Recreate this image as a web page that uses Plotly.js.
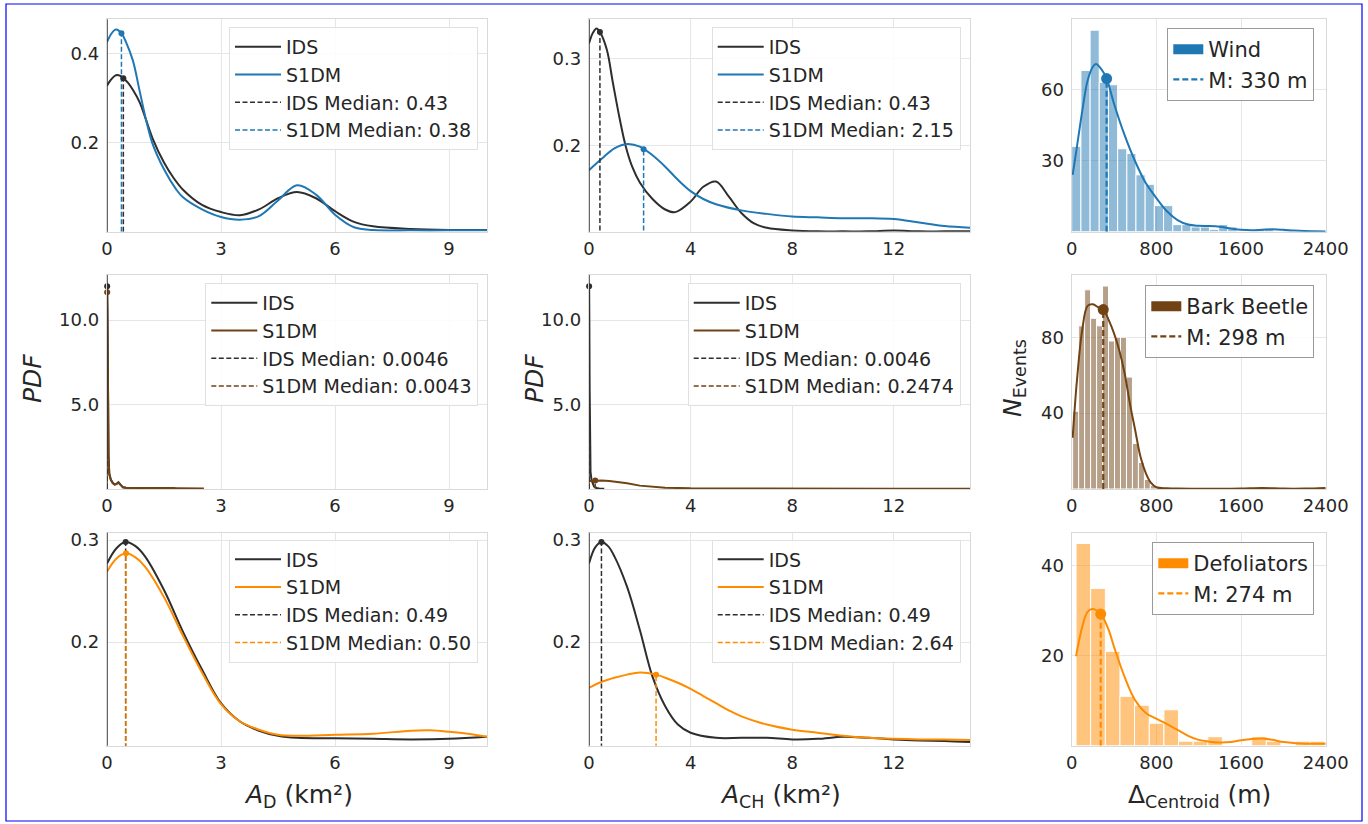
<!DOCTYPE html>
<html>
<head>
<meta charset="utf-8">
<script src="https://cdn.plot.ly/plotly-3.0.1.min.js"></script>
<style>html,body{margin:0;padding:0;background:#fff;}#chart{width:1368px;height:824px;}</style>
</head>
<body>
<div id="chart"></div>
<script>
// ---------------- DATA ----------------
const classNames = ['Wind', 'Bark Beetle', 'Defoliators'];

// Column 1: A_D KDE curves
const adIdsX = [
  [0,0.1,0.2,0.27,0.35,0.43,0.55,0.68,0.86,1.03,1.21,1.5,1.74,2,2.5,3,3.5,4,4.5,5,5.5,6,6.5,7,8,9,10],
  [0,0.0046,0.012,0.025,0.04,0.06,0.1,0.15,0.2,0.25,0.3,0.35,0.42,0.5,0.8,1.2,1.8],
  [0,0.25,0.49,0.75,1,1.5,2,2.5,3,3.5,4,4.5,5,6,7,8,9,10]
];
const adIdsY = [
  [0.327,0.340,0.349,0.351,0.349,0.344,0.334,0.318,0.290,0.250,0.207,0.155,0.122,0.094,0.060,0.044,0.037,0.050,0.075,0.089,0.075,0.046,0.022,0.012,0.006,0.004,0.004],
  [11.6,12.0,10.5,6.0,2.0,0.9,0.55,0.35,0.25,0.28,0.38,0.25,0.08,0.05,0.04,0.03,0.02],
  [0.277,0.292,0.298,0.294,0.284,0.251,0.210,0.173,0.140,0.122,0.113,0.108,0.106,0.1055,0.105,0.1045,0.105,0.107]
];
const adS1dmX = [
  [0,0.1,0.2,0.25,0.3,0.38,0.5,0.68,0.86,1.03,1.2,1.5,1.82,2,2.5,3,3.5,4,4.5,5,5.5,6,6.5,7,8,9,10],
  [0,0.0043,0.012,0.025,0.04,0.06,0.1,0.15,0.2,0.25,0.3,0.35,0.42,0.5,0.8,1.2,1.8,2.2,2.55],
  [0,0.25,0.5,0.75,1,1.5,2,2.5,3,3.5,4,4.5,5,6,7,8,8.5,9,9.5,10]
];
const adS1dmY = [
  [0.425,0.442,0.452,0.453,0.451,0.445,0.425,0.384,0.315,0.250,0.197,0.140,0.095,0.077,0.050,0.033,0.027,0.035,0.070,0.104,0.083,0.038,0.010,0.004,0.003,0.003,0.003],
  [11.3,11.65,10.2,5.8,1.9,0.85,0.52,0.33,0.24,0.27,0.36,0.24,0.08,0.05,0.04,0.03,0.02,0.02,0.01],
  [0.269,0.282,0.287,0.283,0.274,0.244,0.206,0.170,0.139,0.122,0.114,0.109,0.108,0.109,0.110,0.113,0.1134,0.112,0.110,0.107]
];

// Column 2: A_CH KDE curves
const achIdsX = [
  [0,0.15,0.3,0.43,0.7,0.94,1.2,1.44,1.7,2,2.5,3,3.4,4,4.5,5,5.5,6,6.5,7,8,9,10,11,12,13,14,15],
  [0,0.0046,0.012,0.025,0.04,0.06,0.1,0.15,0.2,0.3,0.4,0.6],
  [0,0.25,0.49,0.75,1,1.5,2,2.5,3,3.5,4,5,6,7,8,9,10,11,12,13,14,15]
];
const achIdsY = [
  [0.317,0.329,0.334,0.330,0.310,0.272,0.232,0.200,0.176,0.158,0.139,0.127,0.124,0.136,0.153,0.159,0.142,0.123,0.111,0.106,0.103,0.102,0.102,0.102,0.103,0.102,0.102,0.102],
  [11.6,12.0,10.5,6.0,2.2,1.0,0.5,0.25,0.12,0.04,0.01,0.0],
  [0.277,0.293,0.298,0.294,0.284,0.254,0.212,0.166,0.137,0.119,0.111,0.106,0.106,0.106,0.1045,0.105,0.107,0.106,0.1045,0.1035,0.103,0.102]
];
const achS1dmX = [
  [0,0.5,1,1.5,2,2.5,3,3.5,4,4.5,5,6,7,8,9,10,11,12,13,14,15],
  [0,0.25,0.5,0.8,1,1.5,2,2.5,3,4,6,8,10,12,15],
  [0,0.5,1,1.5,2,2.64,3,3.5,4,4.5,5,5.5,6,7,8,9,10,11,12,13,14,15]
];
const achS1dmY = [
  [0.172,0.185,0.197,0.202,0.199,0.189,0.176,0.161,0.148,0.139,0.133,0.126,0.122,0.119,0.118,0.117,0.117,0.116,0.112,0.108,0.106],
  [0.45,0.49,0.49,0.46,0.43,0.32,0.18,0.10,0.06,0.02,0.005,0.003,0.002,0.002,0.002],
  [0.155,0.161,0.165,0.168,0.170,0.168,0.165,0.160,0.154,0.147,0.140,0.133,0.127,0.119,0.114,0.111,0.108,0.106,0.105,0.1045,0.1045,0.104]
];

// Medians and the KDE height at each median
const medAdIds = [0.43, 0.0046, 0.49];
const medAdS1dm = [0.38, 0.0043, 0.50];
const medAchIds = [0.43, 0.0046, 0.49];
const medAchS1dm = [2.15, 0.2474, 2.64];
const hAdIds = [0.344, 12.0, 0.298];
const hAdS1dm = [0.445, 11.65, 0.287];
const hAchIds = [0.330, 12.0, 0.298];
const hAchS1dm = [0.196, 0.49, 0.168];
const medianLabelsAdIds = ['0.43', '0.0046', '0.49'];
const medianLabelsAdS1dm = ['0.38', '0.0043', '0.50'];
const medianLabelsAchIds = ['0.43', '0.0046', '0.49'];
const medianLabelsAchS1dm = ['2.15', '0.2474', '2.64'];

// Column 3: centroid distance histograms (bin edges, counts) + KDE
const windEdges = [0,87,174,260,347,434,521,607,694,781,868,955,1041,1128,1215,1302,1389,1475,1562,1649,1736,1822,1909,1996,2083];
const windCounts = [36,68,85,63,62,35,33,24,20,11,11,3,3,2,2,1,3,2,0,0,1,1,0,1];
const barkEdges = [9,65.5,122,178.5,235,291.5,348,404.5,461,517.5,574,630.5,687,743.5,800,856.5,913,969.5,1026,1082.5,1139,1195.5,1252,1308.5,1365,1421.5,1478,1534.5,1591,1647.5,1704,1760.5,1817,1873.5,1930,1986.5,2043,2099.5,2156,2212.5,2269,2325.5,2382];
const barkCounts = [41,86,105,90,86,107,78,80,80,59,24,14,5,2,1,0,0,0,0,0,0,0,0,0,0,0,0,0,0,0,0,1,0,0,0,0,0,0,0,0,0,1];
const defolEdges = [41,179,318,456,594,733,871,1009,1148,1286,1424,1563,1701,1839,1977,2116,2254,2392];
const defolCounts = [45,35,21,11,9,5,8,1,1,2,0,0,2,1,0,1,1];
const histEdges = [windEdges, barkEdges, defolEdges];
const histCounts = [windCounts, barkCounts, defolCounts];

const kdeDistX = [
  [9,50,100,150,200,229,280,330,400,500,600,700,800,900,1000,1100,1200,1300,1400,1500,1600,1700,1800,1900,2000,2100,2200,2300,2400],
  [9,50,100,150,200,250,298,350,400,450,500,550,600,650,700,750,800,900,1000,1200,1400,1600,1800,2000,2200,2400],
  [41,100,150,200,274,350,400,500,600,700,800,900,1000,1100,1200,1300,1400,1500,1600,1700,1800,1900,2000,2100,2200,2300,2400]
];
const kdeDistY = [
  [24,36,51,63.7,69.6,70.7,68.6,64.6,54,40.7,29.6,20.5,14.2,8.6,4.9,3.0,2.5,2.4,2.1,1.4,0.8,0.6,0.8,1.0,0.8,0.5,0.3,0.2,0.1],
  [27,57.5,84,96.5,97.4,95.8,94.6,89,82,73,61,45,31,17,8.4,3.2,0.9,0.4,0.2,0.1,0.1,0.2,0.5,0.2,0.2,0.5],
  [19.9,26.5,29.8,30.4,29.3,25.7,22,15.3,10.1,7.3,6.0,4.8,3.5,2.2,1.3,0.9,0.7,0.8,1.2,1.5,1.6,1.3,0.8,0.6,0.45,0.45,0.45]
];
const medDist = [330, 298, 274];
const hMedDist = [64.6, 94.6, 29.3];

// Tick values / labels
const xTicksCol = [[0,3,6,9],[0,4,8,12],[0,800,1600,2400]];
const yTickVals = [
  [[0.2,0.4],[0.2,0.3],[30,60]],
  [[5,10],[5,10],[40,80]],
  [[0.2,0.3],[0.2,0.3],[20,40]]
];
const yTickText = [
  [['0.2','0.4'],['0.2','0.3'],['30','60']],
  [['5.0','10.0'],['5.0','10.0'],['40','80']],
  [['0.2','0.3'],['0.2','0.3'],['20','40']]
];

// ---------------- STYLE / LAYOUT ----------------
const W = 1368, H = 824;
const FONT = 'DejaVu Sans, Verdana, sans-serif';
const TXT = '#262626';
const IDS_COLOR = '#2e2e2e';
const COLORS = ['#1f77b4', '#704214', '#ff8c00'];
const colPx = [[107,487],[589,970],[1071.7,1325.7]];
const rowPx = [[19.3,231.7],[275,489],[532.7,745.7]];
const xRanges = [[0,10],[0,15],[0,2400]];
const yRanges = [
  [[0,0.476],[0.1016,0.3446],[0,89.6]],
  [[-0.02,12.67],[-0.02,12.67],[0,112.8]],
  [[0.0983,0.3072],[0.0983,0.3072],[0,47.4]]
];
const legendPos = [ // right, top in px
  [[478,27],[960.7,27],[1314.3,28]],
  [[478.3,283],[960.7,283],[1314.3,285]],
  [[478,539.5],[960.7,539.5],[1314.3,542]]
];

const traces = [];
const layout = {
  width: W, height: H,
  margin: {l:0, r:0, t:0, b:0},
  paper_bgcolor: '#ffffff', plot_bgcolor: '#ffffff',
  font: {family: FONT, color: TXT, size: 18},
  showlegend: true,
  hovermode: false,
  shapes: [], annotations: []
};

function rgba(hex, a) {
  const n = parseInt(hex.slice(1), 16);
  return `rgba(${(n>>16)&255},${(n>>8)&255},${n&255},${a})`;
}

for (let r = 0; r < 3; r++) {
  for (let c = 0; c < 3; c++) {
    const n = r*3 + c + 1;
    const xa = n === 1 ? 'x' : 'x' + n;
    const ya = n === 1 ? 'y' : 'y' + n;
    const lg = n === 1 ? 'legend' : 'legend' + n;
    const xKey = n === 1 ? 'xaxis' : 'xaxis' + n;
    const yKey = n === 1 ? 'yaxis' : 'yaxis' + n;
    layout[xKey] = {
      domain: [colPx[c][0]/W, colPx[c][1]/W], anchor: ya,
      range: xRanges[c], tickvals: xTicksCol[c], ticktext: xTicksCol[c].map(String),
      showgrid: true, gridcolor: '#e6e6e6', gridwidth: 1,
      showline: true, linecolor: '#d9d9d9', linewidth: 1.2, mirror: true,
      zeroline: false, ticks: '', ticklabelstandoff: 0,
      tickfont: {size: 18, color: TXT, family: FONT}, fixedrange: true
    };
    layout[yKey] = {
      domain: [1 - rowPx[r][1]/H, 1 - rowPx[r][0]/H], anchor: xa,
      range: yRanges[r][c], tickvals: yTickVals[r][c], ticktext: yTickText[r][c],
      showgrid: true, gridcolor: '#e6e6e6', gridwidth: 1,
      showline: true, linecolor: '#d9d9d9', linewidth: 1.2, mirror: true,
      zeroline: false, ticks: '', ticklabelstandoff: 3,
      tickfont: {size: 18, color: TXT, family: FONT}, fixedrange: true
    };
    const isHist = c === 2;
    layout[lg] = {
      x: legendPos[r][c][0]/W, xanchor: 'right',
      y: 1 - legendPos[r][c][1]/H, yanchor: 'top',
      bgcolor: 'rgba(255,255,255,0.85)',
      bordercolor: isHist ? '#9a9a9a' : '#e0e0e0', borderwidth: 1,
      font: {family: FONT, size: isHist ? 21 : 19, color: TXT},
      itemwidth: isHist ? 30 : 46,
      traceorder: 'normal'
    };
    const col = COLORS[r];
    const smooth = r === 1 ? 'linear' : 'spline';

    if (c < 2) {
      const idsX = c === 0 ? adIdsX[r] : achIdsX[r];
      const idsY = c === 0 ? adIdsY[r] : achIdsY[r];
      const sX = c === 0 ? adS1dmX[r] : achS1dmX[r];
      const sY = c === 0 ? adS1dmY[r] : achS1dmY[r];
      const mI = c === 0 ? medAdIds[r] : medAchIds[r];
      const mS = c === 0 ? medAdS1dm[r] : medAchS1dm[r];
      const hI = c === 0 ? hAdIds[r] : hAchIds[r];
      const hS = c === 0 ? hAdS1dm[r] : hAchS1dm[r];
      const lI = c === 0 ? medianLabelsAdIds[r] : medianLabelsAchIds[r];
      const lS = c === 0 ? medianLabelsAdS1dm[r] : medianLabelsAchS1dm[r];
      // left dark reference line at x = 0
      layout.shapes.push({type: 'line', xref: xa, yref: ya + ' domain', x0: 0, x1: 0, y0: 0, y1: 1,
        line: {color: '#333333', width: 1.5}, layer: 'above'});
      traces.push({type: 'scatter', mode: 'lines', x: idsX, y: idsY, xaxis: xa, yaxis: ya, legend: lg,
        name: 'IDS', line: {color: IDS_COLOR, width: 2, shape: smooth, smoothing: 1}});
      traces.push({type: 'scatter', mode: 'lines', x: sX, y: sY, xaxis: xa, yaxis: ya, legend: lg,
        name: 'S1DM', line: {color: col, width: 2, shape: smooth, smoothing: 1}});
      traces.push({type: 'scatter', mode: 'lines', x: [mI, mI], y: [0, hI], xaxis: xa, yaxis: ya, legend: lg,
        name: 'IDS Median: ' + lI, line: {color: IDS_COLOR, width: 1.5, dash: '5px,2.5px'}});
      traces.push({type: 'scatter', mode: 'lines', x: [mS, mS], y: [0, hS], xaxis: xa, yaxis: ya, legend: lg,
        name: 'S1DM Median: ' + lS, line: {color: col, width: 1.5, dash: '5px,2.5px'}});
      traces.push({type: 'scatter', mode: 'markers', x: [mI], y: [hI], xaxis: xa, yaxis: ya, showlegend: false,
        marker: {color: IDS_COLOR, size: 6}, cliponaxis: false});
      traces.push({type: 'scatter', mode: 'markers', x: [mS], y: [hS], xaxis: xa, yaxis: ya, showlegend: false,
        marker: {color: col, size: 6}, cliponaxis: false});
    } else {
      const edges = histEdges[r], counts = histCounts[r];
      const centers = counts.map((_, i) => (edges[i] + edges[i+1]) / 2);
      const widths = counts.map((_, i) => edges[i+1] - edges[i]);
      traces.push({type: 'bar', x: centers, y: counts, width: widths, xaxis: xa, yaxis: ya, showlegend: false,
        marker: {color: rgba(col, 0.5), line: {color: '#ffffff', width: 1}}});
      traces.push({type: 'scatter', mode: 'lines', x: [null], y: [null], xaxis: xa, yaxis: ya, legend: lg,
        name: classNames[r], line: {color: col, width: 12}});
      traces.push({type: 'scatter', mode: 'lines', x: kdeDistX[r], y: kdeDistY[r], xaxis: xa, yaxis: ya, showlegend: false,
        line: {color: col, width: 2, shape: 'spline', smoothing: 1}});
      traces.push({type: 'scatter', mode: 'lines', x: [medDist[r], medDist[r]], y: [0, hMedDist[r]], xaxis: xa, yaxis: ya, legend: lg,
        name: 'M: ' + medDist[r] + ' m', line: {color: col, width: 2.2, dash: '6px,3px'}});
      traces.push({type: 'scatter', mode: 'markers', x: [medDist[r]], y: [hMedDist[r]], xaxis: xa, yaxis: ya, showlegend: false,
        marker: {color: col, size: 11}, cliponaxis: false});
    }
  }
}

// Axis titles
const titleFont = {family: FONT, size: 25, color: TXT};
const ann = (text, xpx, ypx, angle) => layout.annotations.push({
  text: text, xref: 'paper', yref: 'paper', x: xpx/W, y: 1 - ypx/H,
  xanchor: 'center', yanchor: 'middle', showarrow: false, textangle: angle || 0, font: titleFont
});
ann('<i>A</i><sub>D</sub> (km²)', 298, 796);
ann('<i>A</i><sub>CH</sub> (km²)', 780.5, 796);
ann('Δ<sub>Centroid</sub> (m)', 1199, 796);
ann('<i>PDF</i>', 32, 379, -90);
ann('<i>PDF</i>', 534, 379, -90);
ann('<i>N</i><sub>Events</sub>', 1014, 378, -90);

// Blue frame around the figure
layout.shapes.push({type: 'rect', xref: 'paper', yref: 'paper', x0: 6/W, x1: 1362/W, y0: 1 - 821/H, y1: 1 - 4/H,
  line: {color: '#0000ff', width: 1.2}, fillcolor: 'rgba(0,0,0,0)', layer: 'above'});

Plotly.newPlot('chart', traces, layout, {staticPlot: true, displayModeBar: false});
</script>
</body>
</html>
